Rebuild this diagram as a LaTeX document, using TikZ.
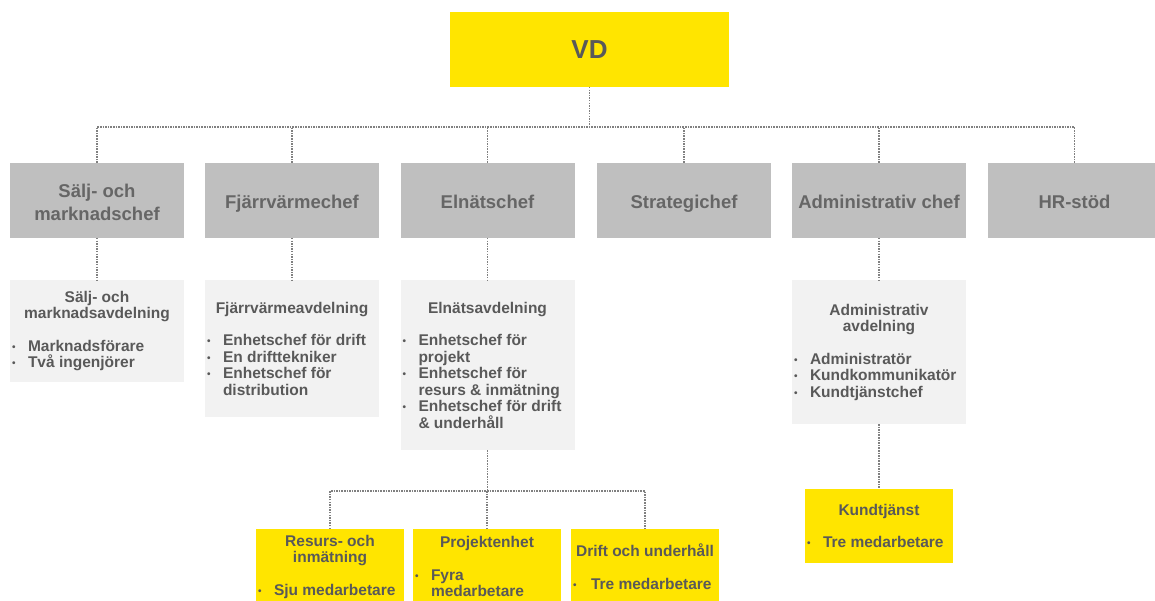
\documentclass[tikz,border=0pt]{standalone}
\usepackage{fontspec}
\setmainfont{Liberation Sans}
\definecolor{yel}{HTML}{FFE500}
\definecolor{gbox}{HTML}{BFBFBF}
\definecolor{lbox}{HTML}{F2F2F2}
\definecolor{txt}{HTML}{595959}
\definecolor{txtb}{HTML}{666666}
\definecolor{lin}{HTML}{808080}
\newcommand\bl[1]{\par\noindent\hspace*{2pt}\makebox[16pt][l]{\raisebox{1pt}{\fontsize{10}{10}\selectfont •}}#1}
\newcommand\cl[1]{\par\noindent\hspace*{18pt}#1}
\newcommand\ttl[1]{\centering #1\par\vspace{16pt}\raggedright}
\newcommand\hst{\rule[-2pt]{0pt}{21pt}}
\tikzset{
  base/.style={anchor=north west, inner sep=0pt, outer sep=0pt, text=txt, font=\fontsize{15.5}{16.5}\selectfont\bfseries},
  topbox/.style={base, fill=yel, minimum width=279pt, minimum height=75pt, font=\fontsize{26}{30}\selectfont\bfseries},
  headbox/.style={base, fill=gbox, text=txtb, minimum width=174pt, minimum height=75pt, align=center, font=\fontsize{18.5}{21.5}\selectfont\bfseries},
  deptbox/.style={base, fill=lbox, minimum width=174pt},
  unitbox/.style={base, fill=yel, minimum width=148pt},
  conn/.style={draw=lin, line width=1.5pt, dash pattern=on 1.5pt off 1.1pt}
}
\begin{document}
\begin{tikzpicture}[x=1pt,y=-1pt]
\useasboundingbox[fill=white] (0,0) rectangle (1155,601);
% top
\node[topbox] (vd) at (450,12) {VD};
% heads
\node[headbox] (sm) at (10,163) {\hst Sälj- och\\\hst marknadschef};
\node[headbox] (fc) at (205,163) {\hst Fjärrvärmechef};
\node[headbox] (ec) at (400.5,163) {\hst Elnätschef};
\node[headbox] (sc) at (597,163) {\hst Strategichef};
\node[headbox] (ac) at (792,163) {\hst Administrativ chef};
\node[headbox] (hr) at (987.5,163) {\hst HR-stöd};
% departments
\node[deptbox, minimum height=102pt] (sma) at (10,280) {\begin{minipage}{174pt}\ttl{Sälj- och\\marknadsavdelning}\bl{Marknadsförare}\bl{Två ingenjörer}\end{minipage}};
\node[deptbox, minimum height=137pt] (fca) at (205,280) {\begin{minipage}{174pt}\ttl{Fjärrvärmeavdelning}\bl{Enhetschef för drift}\bl{En drifttekniker}\bl{Enhetschef för}\cl{distribution}\end{minipage}};
\node[deptbox, minimum height=170pt] (eca) at (400.5,280) {\begin{minipage}{174pt}\ttl{Elnätsavdelning}\bl{Enhetschef för}\cl{projekt}\bl{Enhetschef för}\cl{resurs \& inmätning}\bl{Enhetschef för drift}\cl{\& underhåll}\end{minipage}};
\node[deptbox, minimum height=144pt] (aca) at (792,280) {\begin{minipage}{174pt}\ttl{Administrativ\\avdelning}\bl{Administratör}\bl{Kundkommunikatör}\bl{Kundtjänstchef}\end{minipage}};
% units
\node[unitbox, minimum height=75pt] (ru) at (256,529) {\begin{minipage}{148pt}\ttl{Resurs- och\\inmätning}\bl{Sju medarbetare}\end{minipage}};
\node[unitbox, minimum height=75pt] (pu) at (413,529) {\begin{minipage}{148pt}\ttl{Projektenhet}\bl{Fyra}\cl{medarbetare}\end{minipage}};
\node[unitbox, minimum height=75pt] (du) at (571,529) {\begin{minipage}{148pt}\ttl{Drift och underhåll}\bl{\hspace*{2pt}Tre medarbetare}\end{minipage}};
\node[unitbox, minimum height=74pt] (ku) at (805,489) {\begin{minipage}{148pt}\ttl{Kundtjänst}\bl{Tre medarbetare}\end{minipage}};
% connectors
\coordinate (bus) at (0,127);
\coordinate (bus2) at (0,491);
\draw[conn] (vd.south) -- (vd.south |- bus);
\draw[conn] (sm.north) |- (hr.north |- bus) -- (hr.north);
\foreach \n in {fc,ec,sc,ac} \draw[conn] (\n.north) -- (\n.north |- bus);
\draw[conn] (sm.south) -- (sma.north);
\draw[conn] (fc.south) -- (fca.north);
\draw[conn] (ec.south) -- (eca.north);
\draw[conn] (ac.south) -- (aca.north);
\draw[conn] (eca.south) -- (eca.south |- bus2);
\draw[conn] (ru.north) |- (du.north |- bus2) -- (du.north);
\draw[conn] (pu.north) -- (pu.north |- bus2);
\draw[conn] (aca.south) -- (ku.north);
\end{tikzpicture}
\end{document}
